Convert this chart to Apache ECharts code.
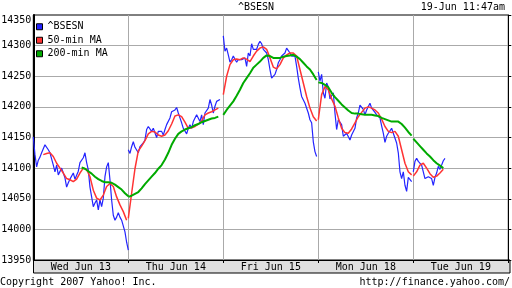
<!DOCTYPE html>
<html><head><meta charset="utf-8">
<script src="https://cdn.jsdelivr.net/npm/echarts@6/dist/echarts.min.js"></script>
<style>html,body{margin:0;padding:0;background:#fff}#c{width:512px;height:288px}</style>
</head><body><div id="c"></div><script>
const dayLabels = ['Wed Jun 13','Thu Jun 14','Fri Jun 15','Mon Jun 18','Tue Jun 19'];
const yMin = 13950, yMax = 14350, yStep = 50;
const stepsPerDay = 57;   // samples per trading day
const maStep = 2;         // MA series sampled every 2 steps

const bseDay1 = [14151,14122,14102,14113,14118,14125,14122,14138,14141,14130,14125,14127,14105,14094,14105,14089,14092,14100,14092,14084,14069,14076,14082,14084,14092,14082,14081,14095,14109,14110,14117,14125,14109,14097,14069,14053,14037,14043,14048,14032,14048,14037,14051,14086,14102,14109,14081,14048,14023,14015,14020,14027,14020,14015,14012,13996,13979,13966];
const bseDay2 = [14130,14124,14135,14143,14134,14135,14125,14135,14138,14141,14146,14163,14168,14165,14160,14165,14163,14150,14160,14157,14160,14154,14163,14171,14174,14182,14192,14195,14195,14199,14190,14182,14174,14165,14165,14156,14165,14171,14165,14176,14179,14187,14187,14176,14187,14171,14190,14193,14198,14212,14203,14190,14201,14209,14209,14212];
const bseDay3 = [14316,14291,14296,14285,14273,14277,14283,14285,14273,14277,14280,14277,14277,14280,14266,14288,14283,14303,14294,14296,14294,14302,14307,14303,14294,14291,14288,14277,14261,14247,14250,14253,14261,14272,14277,14283,14283,14288,14296,14299,14288,14283,14284,14283,14266,14247,14231,14217,14214,14206,14206,14190,14179,14174,14143,14127,14119];
const bseDay4 = [14257,14242,14253,14223,14214,14239,14233,14213,14214,14223,14190,14163,14179,14176,14171,14152,14152,14157,14154,14146,14154,14152,14165,14182,14190,14203,14206,14196,14187,14195,14198,14206,14198,14195,14191,14187,14184,14182,14169,14157,14142,14152,14157,14160,14165,14157,14157,14141,14125,14094,14083,14094,14072,14062,14085,14083,14078];
const bseDay5 = [14094,14111,14116,14111,14111,14105,14094,14083,14081,14086,14086,14083,14072,14085,14092,14103,14098,14101,14112,14116];
const bseStart = [0,0,0,0,0];

const ma50Day1 = [14122,14124,14125,14119,14108,14100,14092,14083,14081,14078,14082,14092,14100,14098,14086,14064,14051,14048,14056,14070,14075,14070,14053,14040,14029,14015];
const ma50Day2 = [14018,14059,14099,14128,14136,14145,14156,14160,14159,14154,14152,14154,14161,14172,14185,14187,14184,14175,14165,14166,14168,14172,14177,14187,14190,14192,14195,14198];
const ma50Day3 = [14220,14250,14269,14277,14278,14277,14280,14278,14274,14283,14291,14296,14298,14294,14280,14265,14262,14269,14280,14285,14288,14288,14283,14261,14239,14217,14198,14184,14177];
const ma50Day4 = [14179,14220,14233,14228,14213,14201,14182,14165,14158,14157,14164,14174,14184,14191,14198,14200,14198,14195,14190,14180,14168,14160,14158,14160,14152,14130,14108,14094,14089];
const ma50Day5 = [14087,14094,14105,14108,14100,14091,14085,14087,14092,14098];
const ma50Start = [6,0,0,0,0];

const ma200Day1 = [14101,14099,14095,14091,14086,14082,14079,14077,14077,14076,14073,14069,14065,14059,14054];
const ma200Day2 = [14053,14055,14058,14061,14067,14074,14080,14086,14092,14099,14105,14114,14125,14138,14148,14156,14160,14163,14165,14167,14170,14172,14175,14177,14179,14181,14182,14184];
const ma200Day3 = [14187,14195,14202,14209,14218,14228,14239,14247,14255,14264,14269,14274,14280,14284,14283,14280,14280,14280,14282,14283,14284,14285,14282,14278,14272,14266,14261,14253,14244];
const ma200Day4 = [14240,14239,14236,14232,14223,14216,14210,14204,14199,14194,14190,14189,14189,14188,14187,14187,14187,14186,14185,14182,14180,14178,14176,14176,14176,14172,14166,14159,14153];
const ma200Day5 = [14148,14142,14136,14130,14124,14119,14113,14108,14104,14100];
const ma200Start = [29,0,0,0,0];

function build(days, starts, step) {
  const out = [];
  days.forEach((vals, d) => {
    if (d > 0) out.push([d, null]);
    vals.forEach((v, i) => out.push([d + (starts[d] + i * step) / stepsPerDay, v]));
  });
  return out;
}

const FONT = 'DejaVu Sans Mono';
const chart = echarts.init(document.getElementById('c'), null, {renderer: 'canvas'});
chart.setOption({
  animation: false,
  backgroundColor: '#fff',
  title: [
    {text: '^BSESN', left: 'center', top: 2, padding: 0, textStyle: {fontFamily: FONT, fontSize: 10, fontWeight: 'normal', color: '#000'}},
    {text: '19-Jun 11:47am', right: 7, top: 2, padding: 0, textStyle: {fontFamily: FONT, fontSize: 10, fontWeight: 'normal', color: '#000'}},
    {text: 'Copyright 2007 Yahoo! Inc.', left: 0, top: 277, padding: 0, textStyle: {fontFamily: FONT, fontSize: 10, fontWeight: 'normal', color: '#000'}},
    {text: 'http://finance.yahoo.com/', right: 2, top: 277, padding: 0, textStyle: {fontFamily: FONT, fontSize: 10, fontWeight: 'normal', color: '#000'}}
  ],
  legend: {
    data: ['^BSESN', '50-min MA', '200-min MA'],
    orient: 'vertical', left: 36, top: 21, padding: 0,
    itemWidth: 6, itemHeight: 6, itemGap: 2, icon: 'rect',
    itemStyle: {borderColor: '#000', borderWidth: 1},
    textStyle: {fontFamily: FONT, fontSize: 10, color: '#000', lineHeight: 11.5}
  },
  graphic: [
    {type: 'rect', z: -10, shape: {x: 33.5, y: 260, width: 476.5, height: 13}, style: {fill: '#e0e0e0', stroke: '#000', lineWidth: 1}}
  ],
  grid: {left: 33.3, right: 3.7, top: 15, bottom: 28, outerBoundsMode: 'none', containLabel: false,
         show: true, borderColor: '#000', borderWidth: 1, backgroundColor: '#fff'},
  xAxis: [
    {type: 'value', min: 0, max: 5, interval: 1,
     axisLabel: {show: false},
     axisLine: {show: true, lineStyle: {color: '#000', width: 1}},
     axisTick: {show: true, length: 3, lineStyle: {color: '#000'}},
     splitLine: {show: true, showMinLine: false, showMaxLine: false, lineStyle: {color: '#aaa', width: 1}}},
    {type: 'category', data: dayLabels, position: 'bottom', boundaryGap: true,
     axisLine: {show: false}, axisTick: {show: false}, splitLine: {show: false},
     axisLabel: {margin: 2, fontFamily: FONT, fontSize: 10, color: '#000'}}
  ],
  yAxis: [
    {type: 'value', min: yMin, max: yMax, interval: yStep, position: 'left',
     axisLine: {show: true, lineStyle: {color: '#000', width: 2}},
     axisTick: {show: false},
     axisLabel: {margin: 2, fontFamily: FONT, fontSize: 10, color: '#000', verticalAlignMaxLabel: 'top',
                 formatter: v => String(v)},
     splitLine: {show: true, showMinLine: false, showMaxLine: false, lineStyle: {color: '#aaa', width: 1}}},
    {type: 'value', min: yMin, max: yMax, interval: yStep, position: 'right',
     axisLine: {show: true, lineStyle: {color: '#000', width: 1}},
     axisTick: {show: true, length: 3, lineStyle: {color: '#000'}},
     axisLabel: {show: false}, splitLine: {show: false}}
  ],
  series: [
    {name: '^BSESN', type: 'line', showSymbol: false, connectNulls: false,
     data: build([bseDay1, bseDay2, bseDay3, bseDay4, bseDay5], bseStart, 1),
     itemStyle: {color: '#2424ff'}, lineStyle: {color: '#2424ff', width: 1.2}},
    {name: '50-min MA', type: 'line', showSymbol: false, connectNulls: false,
     data: build([ma50Day1, ma50Day2, ma50Day3, ma50Day4, ma50Day5], ma50Start, maStep),
     itemStyle: {color: '#ff3333'}, lineStyle: {color: '#ff3333', width: 1.5}},
    {name: '200-min MA', type: 'line', showSymbol: false, connectNulls: false,
     data: build([ma200Day1, ma200Day2, ma200Day3, ma200Day4, ma200Day5], ma200Start, maStep),
     itemStyle: {color: '#00aa00'}, lineStyle: {color: '#00aa00', width: 2}}
  ]
});
</script></body></html>
